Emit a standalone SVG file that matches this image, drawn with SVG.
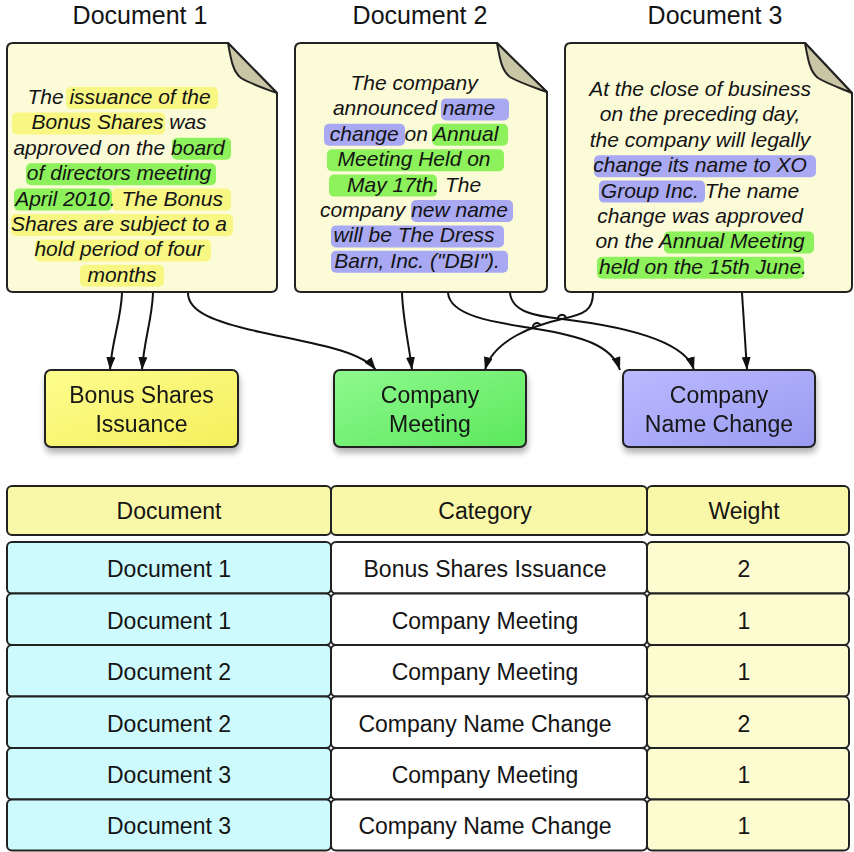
<svg xmlns="http://www.w3.org/2000/svg" width="854" height="852" viewBox="0 0 854 852">
  <style>
    text { font-family: "Liberation Sans", Arial, sans-serif; fill: #141414; }
    .title { font-size: 25px; text-anchor: middle; }
    .doc { fill: #fcfbd8; stroke: #222; stroke-width: 2; stroke-linejoin: round; }
    .fold { fill: #c9c6a6; stroke: #222; stroke-width: 2; stroke-linejoin: round; }
    .body { font-size: 21px; font-style: italic; text-anchor: middle; }
    .hy { fill: #f8f784; }
    .hg { fill: #8cf15a; }
    .hb { fill: #a9a8f2; }
    .cat { stroke: #222; stroke-width: 2; }
    .catlabel { font-size: 23px; text-anchor: middle; }
    .cell { stroke: #222; stroke-width: 2; }
    .th { fill: #f9f8a8; }
    .cd { fill: #cdfafd; }
    .cc { fill: #ffffff; }
    .cw { fill: #fcfcd0; }
    .tt { font-size: 23px; text-anchor: middle; }
    .edge { fill: none; stroke: #111; stroke-width: 2; marker-end: url(#arrow); }
    .hop { fill: none; stroke: #111; stroke-width: 2; }
  </style>
  <defs>
    <marker id="arrow" viewBox="0 0 13 9" refX="13" refY="4.5" markerWidth="13" markerHeight="9" markerUnits="userSpaceOnUse" orient="auto">
      <path d="M0,0 L13,4.5 L0,9 z" fill="#111"/>
    </marker>
    <filter id="shadow" x="-10%" y="-10%" width="120%" height="140%">
      <feGaussianBlur in="SourceAlpha" stdDeviation="3"/>
      <feOffset dx="1" dy="5" result="b"/>
      <feComponentTransfer><feFuncA type="linear" slope="0.3"/></feComponentTransfer>
      <feMerge><feMergeNode/><feMergeNode in="SourceGraphic"/></feMerge>
    </filter>
    <linearGradient id="gYellow" x1="0" y1="0" x2="1" y2="1">
      <stop offset="0" stop-color="#fdfd8e"/>
      <stop offset="1" stop-color="#f5ef5c"/>
    </linearGradient>
    <linearGradient id="gGreen" x1="0" y1="0" x2="1" y2="1">
      <stop offset="0" stop-color="#8ef98e"/>
      <stop offset="1" stop-color="#5ce85c"/>
    </linearGradient>
    <linearGradient id="gBlue" x1="0" y1="0" x2="1" y2="1">
      <stop offset="0" stop-color="#babaff"/>
      <stop offset="1" stop-color="#9a9af2"/>
    </linearGradient>
  </defs>

  <!-- titles -->
  <text class="title" x="140" y="24">Document 1</text>
  <text class="title" x="420" y="24">Document 2</text>
  <text class="title" x="715" y="24">Document 3</text>

  <!-- document 1 -->
  <g id="doc1">
    <path class="doc" d="M13,43 H228 L277,93 V286 Q277,292 271,292 H13 Q7,292 7,286 V49 Q7,43 13,43 Z"/>
    <path class="fold" d="M228,43 C231,60 233,72 241,78 C251,84 263,88 277,93 Z"/>
    <rect class="hy" x="66" y="87" width="152" height="22" rx="5"/>
    <rect class="hy" x="12" y="112.4" width="153" height="22" rx="5"/>
    <rect class="hg" x="172" y="137.8" width="59" height="22" rx="5"/>
    <rect class="hg" x="26" y="163.2" width="190" height="22" rx="5"/>
    <rect class="hg" x="14" y="188.6" width="98" height="22" rx="5"/>
    <rect class="hy" x="112" y="188.6" width="119" height="22" rx="5"/>
    <rect class="hy" x="11" y="214" width="222" height="22" rx="5"/>
    <rect class="hy" x="35" y="239.4" width="176" height="22" rx="5"/>
    <rect class="hy" x="80" y="264.8" width="84" height="22" rx="5"/>
    <text class="body">
      <tspan x="122" y="104">The issuance of the</tspan>
      <tspan x="122" y="129.4">Bonus Shares was</tspan>
      <tspan x="122" y="154.8">approved on the board</tspan>
      <tspan x="122" y="180.2">of directors meeting</tspan>
      <tspan x="122" y="205.6">April 2010. The Bonus</tspan>
      <tspan x="122" y="231">Shares are subject to a</tspan>
      <tspan x="122" y="256.4">hold period of four</tspan>
      <tspan x="122" y="281.8">months</tspan>
    </text>
  </g>

  <!-- document 2 -->
  <g id="doc2">
    <path class="doc" d="M301,43 H497 L547,92 V286 Q547,292 541,292 H301 Q295,292 295,286 V49 Q295,43 301,43 Z"/>
    <path class="fold" d="M497,43 C500,60 502,71 510,77 C520,83 533,87 547,92 Z"/>
    <rect class="hb" x="441" y="98.4" width="68" height="22" rx="5"/>
    <rect class="hb" x="324" y="123.8" width="81" height="22" rx="5"/>
    <rect class="hg" x="432" y="123.8" width="76" height="22" rx="5"/>
    <rect class="hg" x="327" y="149.2" width="177" height="22" rx="5"/>
    <rect class="hg" x="329" y="174.6" width="108" height="22" rx="5"/>
    <rect class="hb" x="411" y="200" width="102" height="22" rx="5"/>
    <rect class="hb" x="331" y="225.4" width="173" height="22" rx="5"/>
    <rect class="hb" x="331" y="250.8" width="177" height="22" rx="5"/>
    <text class="body">
      <tspan x="417" y="90">The company</tspan>
      <tspan x="417" y="115.4">announced name</tspan>
      <tspan x="417" y="140.8">change on Annual</tspan>
      <tspan x="417" y="166.2">Meeting Held on</tspan>
      <tspan x="417" y="191.6">May 17th. The</tspan>
      <tspan x="417" y="217">company new name</tspan>
      <tspan x="417" y="242.4">will be The Dress</tspan>
      <tspan x="417" y="267.8">Barn, Inc. ("DBI").</tspan>
    </text>
  </g>

  <!-- document 3 -->
  <g id="doc3">
    <path class="doc" d="M571,43 H805 L852,93 V286 Q852,292 846,292 H571 Q565,292 565,286 V49 Q565,43 571,43 Z"/>
    <path class="fold" d="M805,43 C808,60 810,72 818,78 C828,84 840,88 852,93 Z"/>
    <rect class="hb" x="594" y="155.2" width="222" height="22" rx="5"/>
    <rect class="hb" x="599" y="180.6" width="106" height="22" rx="5"/>
    <rect class="hg" x="664" y="231.4" width="150" height="22" rx="5"/>
    <rect class="hg" x="597" y="256.8" width="207" height="22" rx="5"/>
    <text class="body">
      <tspan x="703" y="96">At the close of business</tspan>
      <tspan x="703" y="121.4">on the preceding day,</tspan>
      <tspan x="703" y="146.8">the company will legally</tspan>
      <tspan x="703" y="172.2">change its name to XO</tspan>
      <tspan x="703" y="197.6">Group Inc. The name</tspan>
      <tspan x="703" y="223">change was approved</tspan>
      <tspan x="703" y="248.4">on the Annual Meeting</tspan>
      <tspan x="703" y="273.8">held on the 15th June.</tspan>
    </text>
  </g>

  <!-- connectors -->
  <g id="connectors">
    <path class="edge" d="M122,293 C121,320 112,340 110,370"/>
    <path class="edge" d="M153,293 C152,320 144,340 142,370"/>
    <path class="edge" d="M188,293 C188,312 215,322 260,332 C310,343 360,350 376,370"/>
    <path class="edge" d="M402,293 C403,320 409,345 412,370"/>
    <path class="edge" d="M448,293 C450,315 490,322 537,329 C580,336 612,345 620,370"/>
    <path class="edge" d="M510,293 C512,312 535,316 562,319 C620,326 685,340 694,370"/>
    <path class="edge" d="M593,293 C593,310 585,314 562,319 C535,325 493,340 485,370"/>
    <path class="edge" d="M742,293 L747,370"/>
    <!-- small jumps where the Document 3 line crosses -->
    <path class="hop" d="M566,318 A4,4 0 0 0 558,320"/>
    <path class="hop" d="M541,326 A4,4 0 0 0 533,328.5"/>
  </g>

  <!-- categories -->
  <g id="cat-bonus" filter="url(#shadow)">
    <rect class="cat" x="45" y="370" width="193" height="77" rx="6" fill="url(#gYellow)"/>
    <text class="catlabel" x="141.5" y="403">Bonus Shares</text>
    <text class="catlabel" x="141.5" y="432">Issuance</text>
  </g>
  <g id="cat-meeting" filter="url(#shadow)">
    <rect class="cat" x="334" y="370" width="192" height="77" rx="6" fill="url(#gGreen)"/>
    <text class="catlabel" x="430" y="403">Company</text>
    <text class="catlabel" x="430" y="432">Meeting</text>
  </g>
  <g id="cat-namechange" filter="url(#shadow)">
    <rect class="cat" x="623" y="370" width="192" height="77" rx="6" fill="url(#gBlue)"/>
    <text class="catlabel" x="719" y="403">Company</text>
    <text class="catlabel" x="719" y="432">Name Change</text>
  </g>

  <!-- table -->
  <g id="table-header">
    <rect class="cell th" x="7" y="486" width="324" height="49" rx="5"/>
    <rect class="cell th" x="331" y="486" width="316" height="49" rx="5"/>
    <rect class="cell th" x="647" y="486" width="202" height="49" rx="5"/>
    <text class="tt" x="169" y="519">Document</text>
    <text class="tt" x="485" y="519">Category</text>
    <text class="tt" x="744" y="519">Weight</text>
  </g>
  <g id="row1">
    <rect class="cell cd" x="7" y="542" width="324" height="51.5" rx="5"/>
    <rect class="cell cc" x="331" y="542" width="316" height="51.5" rx="5"/>
    <rect class="cell cw" x="647" y="542" width="202" height="51.5" rx="5"/>
    <text class="tt" x="169" y="577">Document 1</text>
    <text class="tt" x="485" y="577">Bonus Shares Issuance</text>
    <text class="tt" x="744" y="577">2</text>
  </g>
  <g id="row2">
    <rect class="cell cd" x="7" y="593.5" width="324" height="51.5" rx="5"/>
    <rect class="cell cc" x="331" y="593.5" width="316" height="51.5" rx="5"/>
    <rect class="cell cw" x="647" y="593.5" width="202" height="51.5" rx="5"/>
    <text class="tt" x="169" y="628.5">Document 1</text>
    <text class="tt" x="485" y="628.5">Company Meeting</text>
    <text class="tt" x="744" y="628.5">1</text>
  </g>
  <g id="row3">
    <rect class="cell cd" x="7" y="645" width="324" height="51.5" rx="5"/>
    <rect class="cell cc" x="331" y="645" width="316" height="51.5" rx="5"/>
    <rect class="cell cw" x="647" y="645" width="202" height="51.5" rx="5"/>
    <text class="tt" x="169" y="680">Document 2</text>
    <text class="tt" x="485" y="680">Company Meeting</text>
    <text class="tt" x="744" y="680">1</text>
  </g>
  <g id="row4">
    <rect class="cell cd" x="7" y="696.5" width="324" height="51.5" rx="5"/>
    <rect class="cell cc" x="331" y="696.5" width="316" height="51.5" rx="5"/>
    <rect class="cell cw" x="647" y="696.5" width="202" height="51.5" rx="5"/>
    <text class="tt" x="169" y="731.5">Document 2</text>
    <text class="tt" x="485" y="731.5">Company Name Change</text>
    <text class="tt" x="744" y="731.5">2</text>
  </g>
  <g id="row5">
    <rect class="cell cd" x="7" y="748" width="324" height="51.5" rx="5"/>
    <rect class="cell cc" x="331" y="748" width="316" height="51.5" rx="5"/>
    <rect class="cell cw" x="647" y="748" width="202" height="51.5" rx="5"/>
    <text class="tt" x="169" y="783">Document 3</text>
    <text class="tt" x="485" y="783">Company Meeting</text>
    <text class="tt" x="744" y="783">1</text>
  </g>
  <g id="row6">
    <rect class="cell cd" x="7" y="799.5" width="324" height="51" rx="5"/>
    <rect class="cell cc" x="331" y="799.5" width="316" height="51" rx="5"/>
    <rect class="cell cw" x="647" y="799.5" width="202" height="51" rx="5"/>
    <text class="tt" x="169" y="834">Document 3</text>
    <text class="tt" x="485" y="834">Company Name Change</text>
    <text class="tt" x="744" y="834">1</text>
  </g>
</svg>
